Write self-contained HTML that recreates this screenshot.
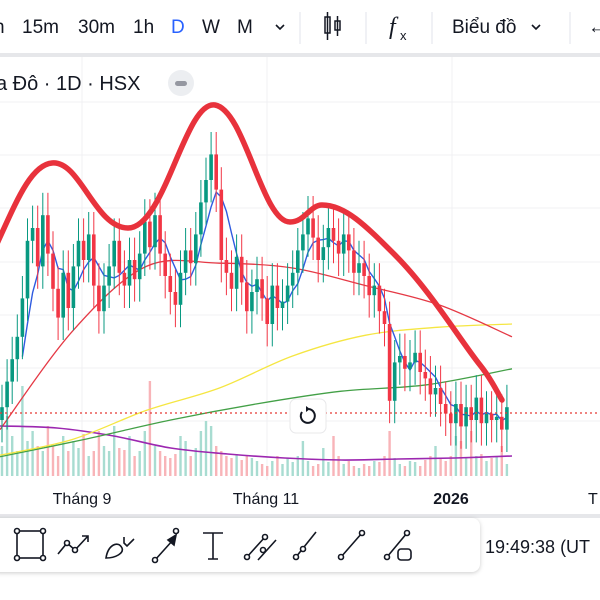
<!DOCTYPE html>
<html><head><meta charset="utf-8"><style>
body{margin:0;width:600px;height:600px;overflow:hidden;background:#fff;font-family:"Liberation Sans","Noto Sans CJK SC",sans-serif;}
svg{position:absolute;left:0;top:0}
</style></head><body>
<svg id="c" width="600" height="600">
<rect x="0" y="0" width="600" height="600" fill="#fff"/>
<g font-size="19" fill="#131722">
 <text x="-6" y="33">h</text>
 <text x="22" y="33">15m</text>
 <text x="78" y="33">30m</text>
 <text x="133" y="33">1h</text>
 <text x="171" y="33" fill="#2962ff">D</text>
 <text x="202" y="33">W</text>
 <text x="237" y="33">M</text>
 <path d="M276 25l4 4 4-4" stroke="#131722" stroke-width="1.6" fill="none"/>
 <line x1="300" y1="12" x2="300" y2="44" stroke="#e0e3eb"/>
 <g stroke="#131722" stroke-width="1.5" fill="none" transform="translate(42,0)"><rect x="283" y="17" width="5" height="16"/><line x1="285.5" y1="12" x2="285.5" y2="40"/><rect x="293" y="21" width="5" height="9"/><line x1="295.5" y1="16" x2="295.5" y2="36"/></g>
 <line x1="366" y1="12" x2="366" y2="44" stroke="#e0e3eb"/>
 <text x="389" y="34" font-family="Liberation Serif" font-style="italic" font-size="24">f</text><text x="400" y="40" font-size="13">x</text>
 <line x1="432" y1="12" x2="432" y2="44" stroke="#e0e3eb"/>
 <text x="452" y="33">Biểu đồ</text>
 <path d="M532 25l4 4 4-4" stroke="#131722" stroke-width="1.6" fill="none"/>
 <line x1="570" y1="12" x2="570" y2="44" stroke="#e0e3eb"/>
 <text x="588" y="33">←</text>
</g>
<rect x="0" y="53" width="600" height="4" fill="#e6e7ea"/>
<g id="grid" stroke="#f0f1f3" stroke-width="1">
 <line x1="82" y1="57" x2="82" y2="480"/><line x1="267" y1="57" x2="267" y2="480"/><line x1="452" y1="57" x2="452" y2="480"/>
 <line x1="0" y1="102" x2="600" y2="102"/><line x1="0" y1="155" x2="600" y2="155"/><line x1="0" y1="208" x2="600" y2="208"/><line x1="0" y1="262" x2="600" y2="262"/><line x1="0" y1="315" x2="600" y2="315"/><line x1="0" y1="368" x2="600" y2="368"/><line x1="0" y1="421" x2="600" y2="421"/>
</g>
<text x="-4" y="90" font-size="20" fill="#131722">a Đô · 1D · HSX</text>
<g><circle cx="181" cy="83" r="13" fill="#eceef1"/><rect x="175" y="81" width="12" height="5" rx="2.5" fill="#9598a1"/></g>
<g id="vol"></g>
<g id="lines"></g>
<g id="candles"></g>
<line x1="0" y1="413" x2="600" y2="413" stroke="#e53935" stroke-width="1.2" stroke-dasharray="2,3"/>
<path d="M-5 248 C15 205,30 165,52 163 C80 160,95 228,128 228 C165 228,185 100,215 105 C245 110,262 222,290 222 C305 222,310 205,322 205 C345 205,365 225,395 255 C430 290,460 340,480 365 C492 380,497 392,502 400" fill="none" stroke="#e8323c" stroke-width="5.5" stroke-linecap="round"/>
<g><rect x="290" y="399" width="36" height="34" rx="6" fill="#fff" stroke="#e8e8ea"/><path d="M302 412 A7 7 0 1 0 309 409" fill="none" stroke="#131722" stroke-width="2"/><path d="M306 406l4 3-4 3z" fill="#131722"/></g>
<g font-size="16" fill="#131722">
 <text x="82" y="504" text-anchor="middle">Tháng 9</text>
 <text x="266" y="504" text-anchor="middle">Tháng 11</text>
 <text x="451" y="504" text-anchor="middle" font-weight="bold">2026</text>
 <text x="588" y="504">T</text>
</g>
<rect x="0" y="514" width="600" height="4" fill="#e6e7ea"/>
<rect x="-10" y="518" width="490" height="54" rx="8" fill="#fff" filter="drop-shadow(0 1px 2px rgba(0,0,0,0.2))"/>
<g stroke="#131722" stroke-width="1.6" fill="none">
 <g><rect x="17" y="531" width="26" height="27"/><circle cx="17" cy="531" r="2.5" fill="#fff"/><circle cx="43" cy="531" r="2.5" fill="#fff"/><circle cx="17" cy="558" r="2.5" fill="#fff"/><circle cx="43" cy="558" r="2.5" fill="#fff"/></g>
 <g><path d="M58 554 L67 543 L75 550 L88 536 M82 536h6v6"/><circle cx="67" cy="543" r="2.5" fill="#fff"/><circle cx="75" cy="550" r="2.5" fill="#fff"/></g>
 <g><path d="M106 558 C108 545,118 540,122 548 C124 553,116 558,106 558 Z M124 537 v6 l3 3 l7 -7"/></g>
 <g><path d="M155 560 L173 540"/><path d="M176 535 l-2 10 -6 -5z" fill="#131722"/><circle cx="155" cy="560" r="2.5" fill="#fff"/><circle cx="176" cy="531" r="2.5" fill="#fff"/></g>
 <g><path d="M203 533h20M213 533v26M208 559h10"/></g>
 <g><path d="M247 557L265 537M258 560L276 540"/><circle cx="247" cy="557" r="2.5" fill="#fff"/><circle cx="265" cy="537" r="2.5" fill="#fff"/><circle cx="263" cy="550" r="2.5" fill="#fff"/></g>
 <g><path d="M296 557L316 532"/><circle cx="296" cy="557" r="2.5" fill="#fff"/><circle cx="303" cy="549" r="2.5" fill="#fff"/></g>
 <g><path d="M341 557L362 533"/><circle cx="341" cy="557" r="2.5" fill="#fff"/><circle cx="362" cy="533" r="2.5" fill="#fff"/></g>
 <g><path d="M387 557L407 533"/><circle cx="387" cy="557" r="2.5" fill="#fff"/><circle cx="407" cy="533" r="2.5" fill="#fff"/><rect x="398" y="549" width="13" height="11" rx="3" fill="#fff"/></g>
</g>
<text x="485" y="553" font-size="18" fill="#131722">19:49:38 (UT</text>
</svg>
<script>
const closes=[20.4,21.2,21.9,22.6,23.8,25.6,26.0,24.8,26.4,25.2,24.1,23.2,24.6,23.5,24.8,25.6,25.0,25.8,24.2,23.4,24.2,24.8,25.6,24.6,24.2,25.0,24.4,25.2,26.2,25.4,26.4,25.2,24.5,24.0,23.6,24.6,25.3,24.9,25.8,26.8,27.5,28.3,27.2,25.0,24.6,24.1,25.1,24.3,23.4,24.0,24.4,23.8,23.0,24.2,23.5,23.7,24.2,24.6,25.3,25.8,26.3,25.7,25.0,25.4,26.0,25.6,25.2,25.8,25.3,24.6,24.9,24.5,23.9,24.2,23.4,23.0,20.6,21.8,22.0,21.6,21.8,22.1,21.5,21.3,20.8,21.0,20.5,20.2,19.9,20.5,19.8,20.4,20.0,20.7,19.9,20.2,20.0,20.1,19.7,20.4];
const volumes=[30,60,40,25,90,35,45,30,25,50,30,20,40,25,35,28,42,20,25,45,30,25,50,28,26,40,20,25,45,95,30,25,20,18,22,40,35,20,28,45,55,50,30,25,20,18,22,16,20,18,15,12,10,15,20,12,18,14,20,35,15,10,12,28,14,40,20,12,15,10,8,12,10,15,14,20,45,18,12,10,15,14,10,16,20,30,18,15,20,40,35,18,45,20,22,15,18,20,30,12];
const ma50=[19.7,22.8,24.8,24.9,24.75,24.2,23.6,22.6];
const ma100=[18.9,19.4,20.3,21.0,22.0,22.65,22.9,23.0];
const ma200=[18.85,19.4,20.0,20.5,20.9,21.1,21.6];
const volMA=[50,48,40,28,22,18,16,17,18,20];
const firstOpen=20.0;
const wick=0.7;
const NS='http://www.w3.org/2000/svg';
const x0=2,step=5.1;
function xScale(i){return x0+i*step;}
function yScale(v){return 420-(v-20)*32;}
function vy(v){return 476-v*1.0;}
const cg=document.getElementById('candles'),vg=document.getElementById('vol'),lg=document.getElementById('lines');
function mk(t,a,p){const e=document.createElementNS(NS,t);for(const k in a)e.setAttribute(k,a[k]);p.appendChild(e);return e;}
volumes.forEach((v,i)=>{
 const o=i?closes[i-1]:firstOpen,up=closes[i]>=o;
 const r=mk('rect',{x:xScale(i)-1.2,y:vy(v),width:2.4,height:476-vy(v),fill:up?'#a8dcd1':'#f8b4b8'},vg);
 
 
});
function polyline(arr,x1,x2,yf,col,w,name){
 const pts=arr.map((v,i)=>[x1+(x2-x1)*i/(arr.length-1),yf(v)]);
 let d='M'+pts[0];
 for(let i=1;i<pts.length;i++){
  const p0=pts[Math.max(0,i-2)],p1=pts[i-1],p2=pts[i],p3=pts[Math.min(pts.length-1,i+1)];
  const c1=[p1[0]+(p2[0]-p0[0])/6,p1[1]+(p2[1]-p0[1])/6],c2=[p2[0]-(p3[0]-p1[0])/6,p2[1]-(p3[1]-p1[1])/6];
  d+=' C'+c1+' '+c2+' '+p2;
 }
 const e=mk('path',{d:d,fill:'none',stroke:col,'stroke-width':w},lg);
 
 
}
polyline(volMA,0,512,vy,'#9c27b0',1.6,'volume-ma-line');
polyline(ma200,0,512,yScale,'#43a047',1.3,'ma200-line');
polyline(ma100,0,512,yScale,'#f5e642',1.3,'ma100-line');
polyline(ma50,0,512,yScale,'#e53945',1.3,'ma50-line');
let pts=[];
for(let i=4;i<closes.length;i++){let s=0;for(let k=i-4;k<=i;k++)s+=closes[k];pts.push(xScale(i)+','+yScale(s/5));}
const bl=mk('polyline',{points:pts.join(' '),fill:'none',stroke:'#2f5be0','stroke-width':1.4},lg);


closes.forEach((c,i)=>{
 const o=i?closes[i-1]:firstOpen,up=c>=o,col=up?'#089981':'#f23645';
 const hi=Math.max(o,c)+wick,lo=Math.min(o,c)-wick,x=xScale(i);
 const l=mk('line',{x1:x,x2:x,y1:yScale(hi),y2:yScale(lo),stroke:col,'stroke-width':1},cg);
 
 
 const top=yScale(Math.max(o,c)),h=Math.max(1,yScale(Math.min(o,c))-top);
 const r=mk('rect',{x:x-1.8,y:top,width:3.6,height:h,fill:col},cg);
 
 
});
</script>
</body></html>
